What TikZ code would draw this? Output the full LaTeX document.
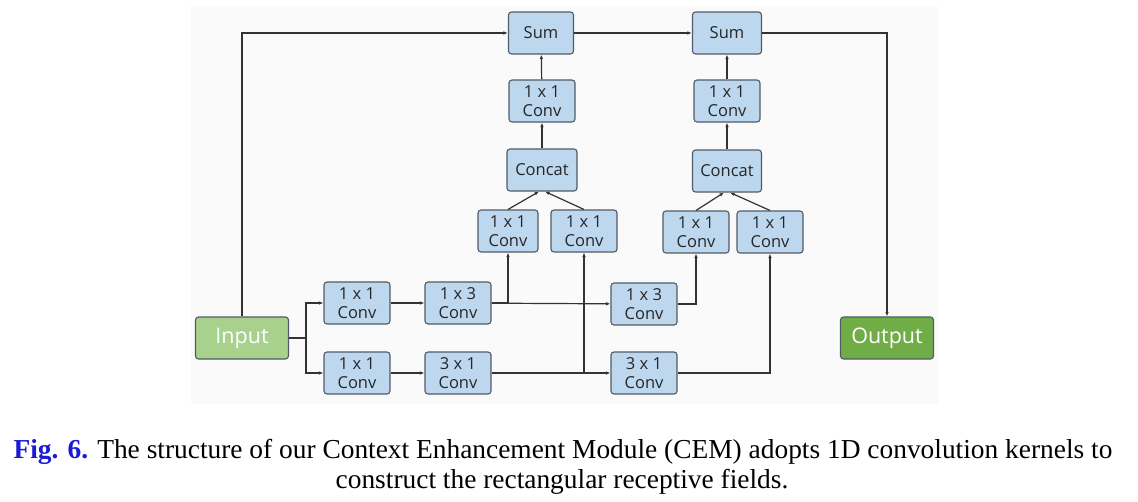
\documentclass[tikz,border=0pt]{standalone}
\usepackage{fontspec}
\setmainfont{Liberation Serif}
\newfontfamily\boxfont{Open Sans}
\usetikzlibrary{arrows.meta}
\definecolor{convblue}{HTML}{BDD7EE}
\definecolor{inputgreen}{HTML}{A9D18E}
\definecolor{outputgreen}{HTML}{70AD47}
\definecolor{edgegray}{HTML}{515B66}
\definecolor{wire}{HTML}{333333}
\definecolor{panel}{HTML}{FAFAFA}
\definecolor{figblue}{HTML}{1A1AD6}
\begin{document}
\begin{tikzpicture}[x=1pt,y=-1pt]
	    \tikzset{>={Latex[length=4.5pt,width=3.5pt]}}
	    \tikzset{
	      blk/.style={draw=edgegray, line width=1.1pt, rounded corners=3pt,
	        fill=convblue, text=black!85, inner sep=0pt, align=center,
	        minimum height=42pt, minimum width=66pt,
	        font=\boxfont\fontsize{16.5}{19}\selectfont},
	      iobox/.style={blk, minimum width=93pt, text=white,
	        font=\boxfont\fontsize{21.5}{25}\selectfont},
	      wire/.style={draw=wire, line width=1.2pt}
	    }
	    \useasboundingbox (0,0) rectangle (1138,501);
	    \fill[panel] (191,6) rectangle (938,404);
	    % input / output
	    \node[iobox, fill=inputgreen] (in) at (242,338) {Input};
	    \node[iobox, fill=outputgreen] (out) at (887,338) {Output};
	    % first stage
	    \node[blk] (c11) at (357,303) {1 x 1\\Conv};
	    \node[blk] (c21) at (357,373) {1 x 1\\Conv};
	    \node[blk] (c13) at (458,303) {1 x 3\\Conv};
	    \node[blk] (c31) at (458,373) {3 x 1\\Conv};
	    \node[blk, minimum width=60pt] (a1) at (508,231) {1 x 1\\Conv};
	    \node[blk] (b1) at (584,231) {1 x 1\\Conv};
	    \node[blk, minimum width=70pt] (cat1) at (542,170) {Concat};
	    \node[blk] (t1) at (542,101) {1 x 1\\Conv};
	    \node[blk, minimum width=65pt] (s1) at (541,33) {Sum};
	    % second stage
	    \node[blk] (c13b) at (644,304) {1 x 3\\Conv};
	    \node[blk] (c31b) at (644,373) {3 x 1\\Conv};
	    \node[blk] (a2) at (696,232) {1 x 1\\Conv};
	    \node[blk] (b2) at (770,232) {1 x 1\\Conv};
	    \node[blk, minimum width=69pt] (cat2) at (727,171) {Concat};
	    \node[blk] (t2) at (727,101) {1 x 1\\Conv};
	    \node[blk, minimum width=69pt] (s2) at (727,33) {Sum};
	    \coordinate (j1) at (306,338);
	    % connectors
	    \draw[wire,->] (in.north) -- (in.north |- s1.west) -- (s1.west);
	    \draw[wire] (in.east) -- (j1);
	    \draw[wire,->] (j1) |- (c11.west);
	    \draw[wire,->] (j1) |- (c21.west);
	    \draw[wire,->] (c11) -- (c13);
	    \draw[wire,->] (c21) -- (c31);
	    \draw[wire,->] (c13) -- (c13b);
	    \draw[wire,->] (c31) -- (c31b);
	    \draw[wire,->] (c13.east) -| (a1.south);
	    \draw[wire,->] (c31.east) -| (b1.south);
	    \draw[wire,->] (a1.north) -- ([xshift=-3pt]cat1.south);
	    \draw[wire,->] (b1.north) -- ([xshift=3pt]cat1.south);
	    \draw[wire,->] (cat1) -- (t1);
	    \draw[wire,->] (t1) -- (s1);
	    \draw[wire,->] (s1) -- (s2);
	    \draw[wire,->] (c13b.east) -| (a2.south);
	    \draw[wire,->] (c31b.east) -| (b2.south);
	    \draw[wire,->] (a2.north) -- ([xshift=-3pt]cat2.south);
	    \draw[wire,->] (b2.north) -- ([xshift=3pt]cat2.south);
	    \draw[wire,->] (cat2) -- (t2);
	    \draw[wire,->] (t2) -- (s2);
	    \draw[wire,->] (s2.east) -| (out.north);
	    % caption
	    \node[anchor=base, font=\fontsize{27.4}{30}\selectfont, inner sep=0pt] (cap1) at (563,458)
	      {\textcolor{figblue}{\textbf{Fig. 6.}} The structure of our Context Enhancement Module (CEM) adopts 1D convolution kernels to};
	    \node[anchor=base, font=\fontsize{27.4}{30}\selectfont, inner sep=0pt] (cap2) at (562,488)
	      {construct the rectangular receptive fields.};
\end{tikzpicture}
\end{document}
